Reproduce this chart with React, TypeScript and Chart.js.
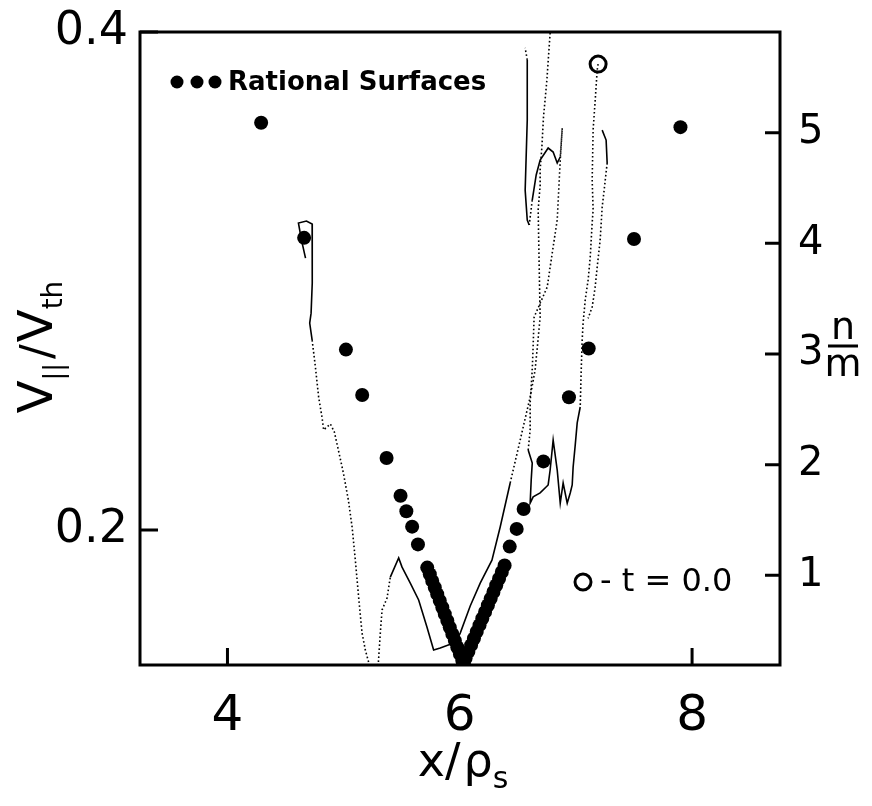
import React, { useEffect, useRef } from "react";
import { Chart, registerables } from "chart.js";

Chart.register(...registerables);

// ---- axis ticks ----
const xTicks = [4, 6, 8];
const vTicks = [0.2, 0.4];
const qTicks = [1, 2, 3, 4, 5];

// ---- rational surfaces: [x/rho_s, n/m] ----
const rationalLeft: number[][] = [
  [4.29, 5.09], [4.66, 4.05], [5.02, 3.04], [5.16, 2.63], [5.37, 2.06],
  [5.49, 1.72], [5.54, 1.58], [5.59, 1.44], [5.64, 1.28],
  [5.72, 1.07], [5.742, 1.01], [5.763, 0.95], [5.785, 0.89], [5.806, 0.83],
  [5.828, 0.77], [5.85, 0.71], [5.871, 0.65], [5.893, 0.59], [5.914, 0.53],
  [5.936, 0.47], [5.958, 0.41], [5.979, 0.35], [6.001, 0.29], [6.022, 0.23],
  [6.04, 0.18],
];
const rationalRight: number[][] = [
  [7.9, 5.05], [7.5, 4.04], [7.11, 3.05], [6.94, 2.61], [6.72, 2.03],
  [6.55, 1.6], [6.49, 1.42], [6.43, 1.26],
  [6.386, 1.09], [6.362, 1.03], [6.338, 0.97], [6.314, 0.91], [6.29, 0.85],
  [6.266, 0.79], [6.242, 0.73], [6.218, 0.67], [6.194, 0.61], [6.17, 0.55],
  [6.146, 0.49], [6.122, 0.43], [6.098, 0.37], [6.074, 0.31], [6.05, 0.25],
  [6.026, 0.19],
];

// ---- start marker (t = 0.0): [x, V/Vth] ----
const startPoint: number[][] = [[7.191, 0.3871]];

// ---- trajectories: [x/rho_s, V||/Vth] ----
const trajA: number[][] = [
  [4.672, 0.3092], [4.637, 0.3165], [4.611, 0.3233], [4.68, 0.3241], [4.729, 0.3229],
  [4.731, 0.3124], [4.729, 0.2992], [4.72, 0.2871], [4.708, 0.2831], [4.729, 0.2763],
  [4.757, 0.2655], [4.785, 0.2534], [4.815, 0.245], [4.828, 0.2402], [4.886, 0.2426],
  [4.92, 0.2394], [4.955, 0.2321], [4.998, 0.2229], [5.041, 0.212], [5.073, 0.2012],
  [5.101, 0.1879], [5.129, 0.1731], [5.159, 0.1586], [5.187, 0.1518], [5.222, 0.1458],
  [5.256, 0.143], [5.299, 0.1466], [5.316, 0.1586], [5.331, 0.1679], [5.374, 0.1727],
  [5.402, 0.1811], [5.474, 0.1888], [5.503, 0.1851], [5.574, 0.1787], [5.646, 0.1719],
  [5.718, 0.161], [5.775, 0.1518], [5.832, 0.1526], [5.901, 0.1538], [5.961, 0.1546],
  [6.004, 0.1586], [6.09, 0.1695], [6.176, 0.1787], [6.277, 0.1879], [6.348, 0.2012],
  [6.434, 0.2189], [6.52, 0.2361], [6.606, 0.2534], [6.649, 0.2643], [6.692, 0.2855],
  [6.683, 0.307], [6.675, 0.3285], [6.691, 0.3378], [6.692, 0.3446], [6.707, 0.3538],
  [6.721, 0.3659], [6.75, 0.3807], [6.778, 0.3996], [6.79, 0.41],
];
const trajB: number[][] = [
  [7.191, 0.3871], [7.183, 0.3847], [7.166, 0.3727], [7.148, 0.3606], [7.14, 0.3406],
  [7.148, 0.3285], [7.14, 0.3233], [7.123, 0.3096], [7.105, 0.3004], [7.08, 0.2924],
  [7.062, 0.2831], [7.054, 0.2763], [7.045, 0.2631], [7.037, 0.2494], [7.011, 0.243],
  [6.994, 0.2341], [6.976, 0.2253], [6.968, 0.2181], [6.951, 0.2149], [6.925, 0.2108],
  [6.89, 0.2189], [6.865, 0.2108], [6.839, 0.2241], [6.804, 0.2361], [6.778, 0.2241],
  [6.761, 0.2181], [6.692, 0.2149], [6.632, 0.2133], [6.606, 0.2108], [6.615, 0.2201],
  [6.624, 0.2269], [6.589, 0.2321], [6.606, 0.2402], [6.606, 0.251], [6.624, 0.2643],
  [6.632, 0.2743], [6.64, 0.2855], [6.753, 0.2976], [6.796, 0.3112], [6.839, 0.3245],
  [6.865, 0.3486], [6.882, 0.3614], [6.865, 0.3498], [6.839, 0.3474], [6.804, 0.3518],
  [6.761, 0.3534], [6.692, 0.3486], [6.658, 0.3426], [6.624, 0.3325], [6.598, 0.3225],
  [6.581, 0.3245], [6.563, 0.3365], [6.581, 0.3647], [6.581, 0.3888], [6.563, 0.3936],
];
const trajC: number[][] = [
  [7.226, 0.3606], [7.26, 0.3566], [7.269, 0.3474], [7.243, 0.3365], [7.226, 0.3297],
  [7.209, 0.3165], [7.183, 0.3056], [7.166, 0.2976], [7.14, 0.2896], [7.105, 0.285],
];

// index ranges (segment start) drawn solid; the rest dotted
const solidA = [[0, 9], [30, 45]];
const solidB = [[13, 31], [42, 48], [49, 53]];
const solidC = [[0, 2]];

const FONT = "'DejaVu Sans', sans-serif";
const toXY = (arr: number[][]) => arr.map(([x, y]) => ({ x, y }));
const dashFor = (ranges: number[][]) => (ctx: any) =>
  ranges.some(([a, b]) => ctx.p0DataIndex >= a && ctx.p0DataIndex < b) ? [] : [1.6, 2.4];

const decor = {
  id: "decor",
  beforeDatasetsDraw(chart: any) {
    const { ctx, chartArea: a, scales } = chart;
    ctx.save();
    ctx.strokeStyle = "#000";
    ctx.lineWidth = 3;
    ctx.beginPath();
    for (const v of vTicks) {
      const py = scales.y.getPixelForValue(v);
      ctx.moveTo(a.left, py);
      ctx.lineTo(a.left + 18, py);
    }
    for (const v of xTicks) {
      const px = scales.x.getPixelForValue(v);
      ctx.moveTo(px, a.bottom);
      ctx.lineTo(px, a.bottom - 17);
    }
    for (const v of qTicks) {
      const py = scales.y2.getPixelForValue(v);
      ctx.moveTo(a.right, py);
      ctx.lineTo(a.right - 15, py);
    }
    ctx.stroke();
    ctx.restore();
  },
  afterDraw(chart: any) {
    const { ctx, chartArea: a } = chart;
    ctx.save();
    ctx.strokeStyle = "#000";
    ctx.fillStyle = "#000";
    // frame
    ctx.lineWidth = 3;
    ctx.strokeRect(a.left, a.top, a.right - a.left, a.bottom - a.top);

    // legend: rational surfaces
    const ly = a.top + 50;
    for (const dx of [37, 57, 75]) {
      ctx.beginPath();
      ctx.arc(a.left + dx, ly, 6.5, 0, Math.PI * 2);
      ctx.fill();
    }
    ctx.font = `bold 26px ${FONT}`;
    ctx.textBaseline = "middle";
    ctx.textAlign = "left";
    ctx.fillText("Rational Surfaces", a.left + 88, ly + 1);

    // legend: t = 0.0 marker
    const ty = a.top + 550;
    ctx.lineWidth = 3;
    ctx.beginPath();
    ctx.arc(a.left + 443, ty, 8, 0, Math.PI * 2);
    ctx.stroke();
    ctx.font = `32px ${FONT}`;
    ctx.fillText("- t = 0.0", a.left + 460, ty + 1);

    const drawParts = (ps: any[], cx: number, cy: number, rot: number) => {
      ctx.save();
      ctx.translate(cx, cy);
      ctx.rotate(rot);
      let total = 0;
      for (const p of ps) {
        ctx.font = `${p.s}px ${FONT}`;
        total += ctx.measureText(p.t).width + (p.gap || 0);
      }
      let x = -total / 2;
      ctx.textAlign = "left";
      ctx.textBaseline = "alphabetic";
      for (const p of ps) {
        ctx.font = `${p.s}px ${FONT}`;
        ctx.fillText(p.t, x, p.dy);
        x += ctx.measureText(p.t).width + (p.gap || 0);
      }
      ctx.restore();
    };
    // left title V|| / Vth (rotated)
    drawParts(
      [
        { t: "V", s: 48, dy: 0 },
        { t: "||", s: 26, dy: 10, gap: 4 },
        { t: "/", s: 44, dy: 0, gap: 2 },
        { t: "V", s: 48, dy: 0 },
        { t: "th", s: 28, dy: 10 },
      ],
      44,
      339,
      -Math.PI / 2
    );

    // bottom title x / rho_s
    drawParts(
      [
        { t: "x", s: 46, dy: 0 },
        { t: "/", s: 46, dy: 0, gap: 3 },
        { t: "ρ", s: 46, dy: 0 },
        { t: "s", s: 30, dy: 12 },
      ],
      455,
      768,
      0
    );

    // right title n/m fraction
    const fx = 835;
    ctx.font = `38px ${FONT}`;
    ctx.textAlign = "center";
    ctx.textBaseline = "alphabetic";
    ctx.fillText("n", fx, 331);
    ctx.fillText("m", fx, 368);
    ctx.lineWidth = 3;
    ctx.beginPath();
    ctx.moveTo(fx - 15, 338);
    ctx.lineTo(fx + 15, 338);
    ctx.stroke();
    ctx.restore();
  },
};

export default function App() {
  const ref = useRef<HTMLCanvasElement>(null);
  useEffect(() => {
    const lineDs = (data: number[][], solid: number[][]) => ({
      type: "line" as const,
      data: toXY(data),
      yAxisID: "y",
      showLine: true,
      borderColor: "#000",
      borderWidth: 1.6,
      pointRadius: 0,
      fill: false,
      tension: 0,
      segment: { borderDash: dashFor(solid) },
    });
    const dotDs = (data: number[][]) => ({
      data: toXY(data),
      yAxisID: "y2",
      pointRadius: 7,
      pointBackgroundColor: "#000",
      pointBorderWidth: 0,
      borderColor: "#000",
    });
    const chart = new Chart(ref.current as HTMLCanvasElement, {
      type: "scatter",
      data: {
        datasets: [
          lineDs(trajA, solidA) as any,
          lineDs(trajB, solidB) as any,
          lineDs(trajC, solidC) as any,
          dotDs(rationalLeft),
          dotDs(rationalRight),
          {
            data: toXY(startPoint),
            yAxisID: "y",
            pointRadius: 8,
            pointBackgroundColor: "#fff",
            pointBorderColor: "#000",
            pointBorderWidth: 3,
          },
        ],
      },
      options: {
        animation: false,
        responsive: false,
        devicePixelRatio: 1,
        layout: { padding: { top: 24, left: 0, right: 0, bottom: 0 } },
        plugins: { legend: { display: false }, tooltip: { enabled: false } },
        scales: {
          x: {
            type: "linear",
            min: 3.247,
            max: 8.757,
            grid: { display: false, drawTicks: false },
            border: { display: false },
            afterBuildTicks: (s: any) => {
              s.ticks = xTicks.map((v) => ({ value: v }));
            },
            afterFit: (s: any) => {
              s.height = 133;
              s.paddingLeft = 0;
              s.paddingRight = 0;
            },
            ticks: {
              color: "#000",
              padding: 22,
              font: { family: FONT, size: 50 },
              maxRotation: 0,
              callback: (v: any) => String(v),
            },
          },
          y: {
            type: "linear",
            position: "left",
            min: 0.1458,
            max: 0.4,
            grid: { display: false, drawTicks: false },
            border: { display: false },
            afterBuildTicks: (s: any) => {
              s.ticks = vTicks.map((v) => ({ value: v }));
            },
            afterFit: (s: any) => {
              s.width = 132;
              s.paddingTop = 0;
              s.paddingBottom = 0;
            },
            ticks: {
              color: "#000",
              padding: 12,
              font: { family: FONT, size: 46 },
              callback: (v: any) => Number(v).toFixed(1),
            },
          },
          y2: {
            type: "linear",
            position: "right",
            min: 0.19,
            max: 5.91,
            grid: { display: false, drawTicks: false },
            border: { display: false },
            afterBuildTicks: (s: any) => {
              s.ticks = qTicks.map((v) => ({ value: v }));
            },
            afterFit: (s: any) => {
              s.width = 84;
              s.paddingTop = 0;
              s.paddingBottom = 0;
            },
            ticks: {
              color: "#000",
              padding: 18,
              font: { family: FONT, size: 40 },
              callback: (v: any) => String(v),
            },
          },
        },
      },
      plugins: [decor],
    });
    return () => chart.destroy();
  }, []);
  return (
    <div style={{ width: 856, height: 790 }}>
      <canvas ref={ref} width={856} height={790} style={{ display: "block" }} />
    </div>
  );
}
